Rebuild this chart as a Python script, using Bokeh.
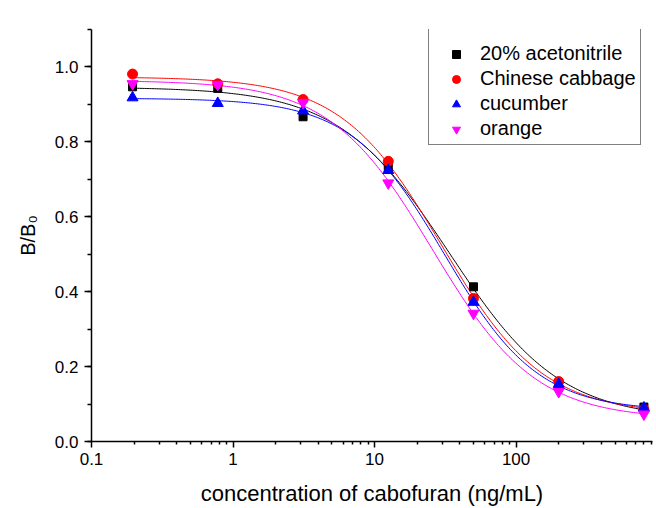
import numpy as np
from bokeh.plotting import figure
from bokeh.models import (Range1d, FixedTicker, SingleIntervalTicker,
                          CustomJSTickFormatter, Legend, LegendItem)
from bokeh.embed import file_html
from bokeh.resources import INLINE

# ---- data ----
conc = [0.195, 0.78, 3.125, 12.5, 50, 200, 800]
acetonitrile = [0.947, 0.943, 0.867, 0.732, 0.413, 0.155, 0.092]
cabbage = [0.981, 0.955, 0.913, 0.748, 0.382, 0.160, 0.086]
cucumber = [0.918, 0.903, 0.883, 0.724, 0.372, 0.153, 0.090]
orange = [0.955, 0.953, 0.905, 0.690, 0.342, 0.133, 0.073]

names = ["20% acetonitrile", "Chinese cabbage", "cucumber", "orange"]
colors = ["black", "#FF0000", "#0000FF", "#FF00FF"]
markers = ["square", "circle", "triangle", "inverted_triangle"]
sizes = [8, 10, 11, 11]

x_major = [0.1, 1, 10, 100]
y_major_step = 0.2

FONT = "Liberation Sans"


def fit4pl(x, y):
    """Least-squares four-parameter logistic fit (grid over IC50 and slope)."""
    x = np.asarray(x, float)
    y = np.asarray(y, float)
    lx = np.log10(x)
    logc = np.linspace(0.3, 2.7, 481)
    slope = np.linspace(0.3, 2.5, 441)
    LC, B = np.meshgrid(logc, slope, indexing="ij")
    g = 1.0 / (1.0 + 10 ** ((lx[None, None, :] - LC[..., None]) * B[..., None]))
    h = 1.0 - g
    sgg = (g * g).sum(-1)
    sgh = (g * h).sum(-1)
    shh = (h * h).sum(-1)
    sgy = (g * y).sum(-1)
    shy = (h * y).sum(-1)
    det = sgg * shh - sgh ** 2
    A = (sgy * shh - shy * sgh) / det
    D = (shy * sgg - sgy * sgh) / det
    res = ((A[..., None] * g + D[..., None] * h - y) ** 2).sum(-1)
    i, j = np.unravel_index(np.argmin(res), res.shape)
    return A[i, j], D[i, j], 10 ** LC[i, j], B[i, j]


p = figure(width=656, height=508, x_axis_type="log",
           x_range=Range1d(0.1, 920), y_range=Range1d(0, 1.1),
           output_backend="svg", toolbar_location=None,
           min_border_left=91, min_border_right=4, min_border_top=29,
           min_border_bottom=66)
p.grid.visible = False
p.outline_line_color = None
p.background_fill_color = "white"
p.border_fill_color = "white"

series = [acetonitrile, cabbage, cucumber, orange]
items = []
for name, ys, col, mk, sz in zip(names, series, colors, markers, sizes):
    A, D, C, B = fit4pl(conc, ys)
    xs = np.logspace(np.log10(conc[0]), np.log10(conc[-1]), 300)
    yf = D + (A - D) / (1.0 + (xs / C) ** B)
    p.line(xs, yf, line_color=col, line_width=1)
for name, ys, col, mk, sz in zip(names, series, colors, markers, sizes):
    r = p.scatter(conc, ys, marker=mk, size=sz, fill_color=col,
                  line_color=col)
    items.append(LegendItem(label=name, renderers=[r]))

legend = Legend(items=items, location=(337, 296), margin=0,
                title=" ", title_text_font_size="1px", title_standoff=9,
                padding=4, spacing=2, glyph_width=46, glyph_height=20,
                label_height=20, label_standoff=1, label_width=153,
                label_text_font=FONT, label_text_font_size="20px",
                label_text_color="black",
                border_line_color="black", border_line_width=1,
                background_fill_color="white", background_fill_alpha=1)
p.add_layout(legend)

# axes
xa = p.xaxis[0]
xa.ticker = FixedTicker(
    ticks=x_major,
    minor_ticks=[m * d for d in x_major for m in range(2, 10)])
xa.formatter = CustomJSTickFormatter(code="return tick.toString();")
xa.axis_label = "concentration of cabofuran (ng/mL)"

ya = p.yaxis[0]
ya.ticker = SingleIntervalTicker(interval=y_major_step, num_minor_ticks=2)
ya.formatter = CustomJSTickFormatter(code="return tick.toFixed(1);")
ya.axis_label = "B/B\u2080"

for ax in (xa, ya):
    ax.axis_line_width = 1.5
    ax.axis_line_color = "black"
    ax.major_tick_line_width = 1.5
    ax.minor_tick_line_width = 1.5
    ax.major_tick_line_color = "black"
    ax.minor_tick_line_color = "black"
    ax.major_tick_in = 0
    ax.minor_tick_in = 0
    ax.major_label_text_font = FONT
    ax.major_label_text_font_size = "17px"
    ax.major_label_text_color = "black"
    ax.axis_label_text_font = FONT
    ax.axis_label_text_font_style = "normal"
    ax.axis_label_text_color = "black"

xa.major_tick_out = 6
xa.minor_tick_out = 3
xa.major_label_standoff = 5
xa.axis_label_text_font_size = "22px"
xa.axis_label_standoff = 13

ya.major_tick_out = 7
ya.minor_tick_out = 4
ya.major_label_standoff = 6
ya.axis_label_text_font_size = "20px"
ya.axis_label_standoff = 13

open("out.html", "w").write(file_html(p, INLINE))
